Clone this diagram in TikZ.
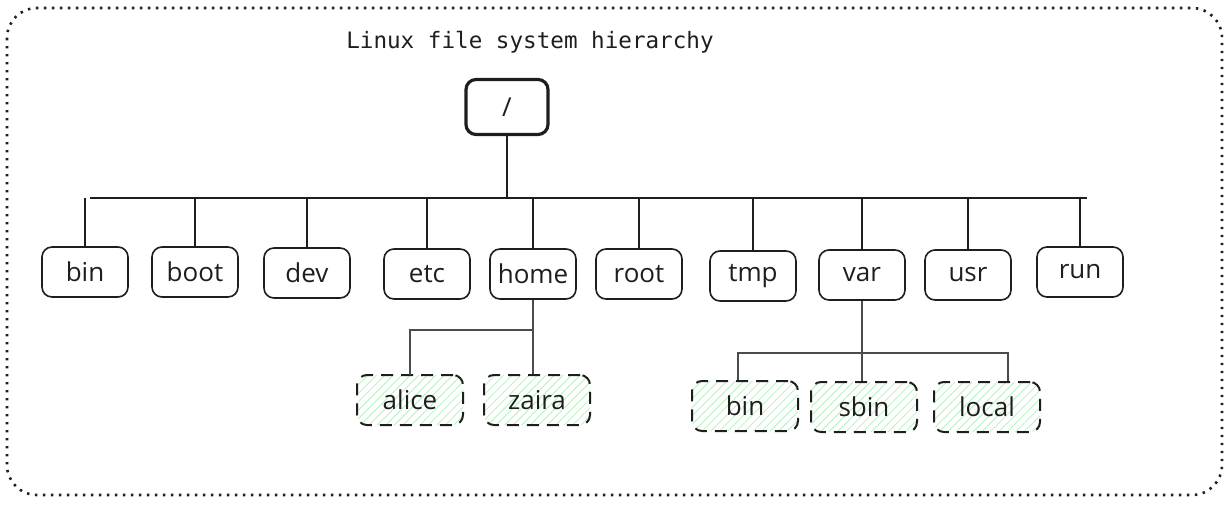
\documentclass[tikz,border=0pt]{standalone}
\usepackage{fontspec}
\setmainfont{Open Sans}
\newfontfamily\titlefont{DejaVu Sans Mono}
\usetikzlibrary{patterns.meta}
\definecolor{ink}{HTML}{1E1E1E}
\definecolor{hatch}{HTML}{B2F2BB}

\begin{document}
\begin{tikzpicture}[x=0.5pt, y=-0.5pt, ink,
	dirbox/.style={draw, rounded corners=5pt, line width=0.8pt, minimum width=43pt, minimum height=25pt, font=\fontsize{13}{15}\selectfont},
	leafbox/.style={dirbox, minimum width=53pt, line width=1pt, dash pattern=on 6pt off 4pt, pattern={Lines[angle=45, distance=3pt, line width=0.4pt]}, pattern color=hatch},
	link/.style={line width=0.7pt, draw=ink!80}]
	\useasboundingbox (0,0) rectangle (1231,514);
	\draw[line width=1.3pt, dash pattern=on 1.2pt off 2.8pt, rounded corners=15pt] (7,8) rectangle (1222,495);
	\node (title) at (530,42) {\titlefont\fontsize{11.3}{13}\selectfont Linux file system hierarchy};
	\node[dirbox, line width=1.6pt, minimum width=41pt, minimum height=27.5pt] (rootdir) at (507,107) {/};
	\coordinate (busL) at (90,198);
	\coordinate (busR) at (1087,198);
	\draw[line width=1.2pt] (busL) -- (busR);
	\draw[line width=0.8pt] (rootdir.south) -- (rootdir.south |- busL);
	\node[dirbox] (bin) at (85,272) {bin};
	\node[dirbox] (boot) at (195,272) {boot};
	\node[dirbox] (dev) at (307,273) {dev};
	\node[dirbox] (etc) at (427,274) {etc};
	\node[dirbox] (home) at (533,274) {home};
	\node[dirbox] (root) at (639,274) {root};
	\node[dirbox] (tmp) at (753,276) {tmp};
	\node[dirbox] (var) at (862,275) {var};
	\node[dirbox] (usr) at (968,275) {usr};
	\node[dirbox] (run) at (1080,272) {run};
	\foreach \d in {bin,boot,dev,etc,home,root,tmp,var,usr,run}
		\draw[line width=0.8pt] (\d.north) -- (\d.north |- busL);
	\node[leafbox] (alice) at (410,400) {alice};
	\node[leafbox] (zaira) at (537,400) {zaira};
	\coordinate (homeJ) at (533,330);
	\draw[link] (home.south) -- (homeJ) -| (alice.north);
	\draw[link] (homeJ) -- (homeJ |- zaira.north);
	\node[leafbox] (vbin) at (745,406) {bin};
	\node[leafbox] (vsbin) at (864,407) {sbin};
	\node[leafbox] (vlocal) at (987,407) {local};
	\coordinate (varJ) at (862,353);
	\draw[link] (var.south) -- (varJ) -| ([xshift=-3.5pt]vbin.north);
	\draw[link] (varJ) -| ([xshift=10.5pt]vlocal.north);
	\draw[link] (varJ) -- (varJ |- vsbin.north);
\end{tikzpicture}
\end{document}
